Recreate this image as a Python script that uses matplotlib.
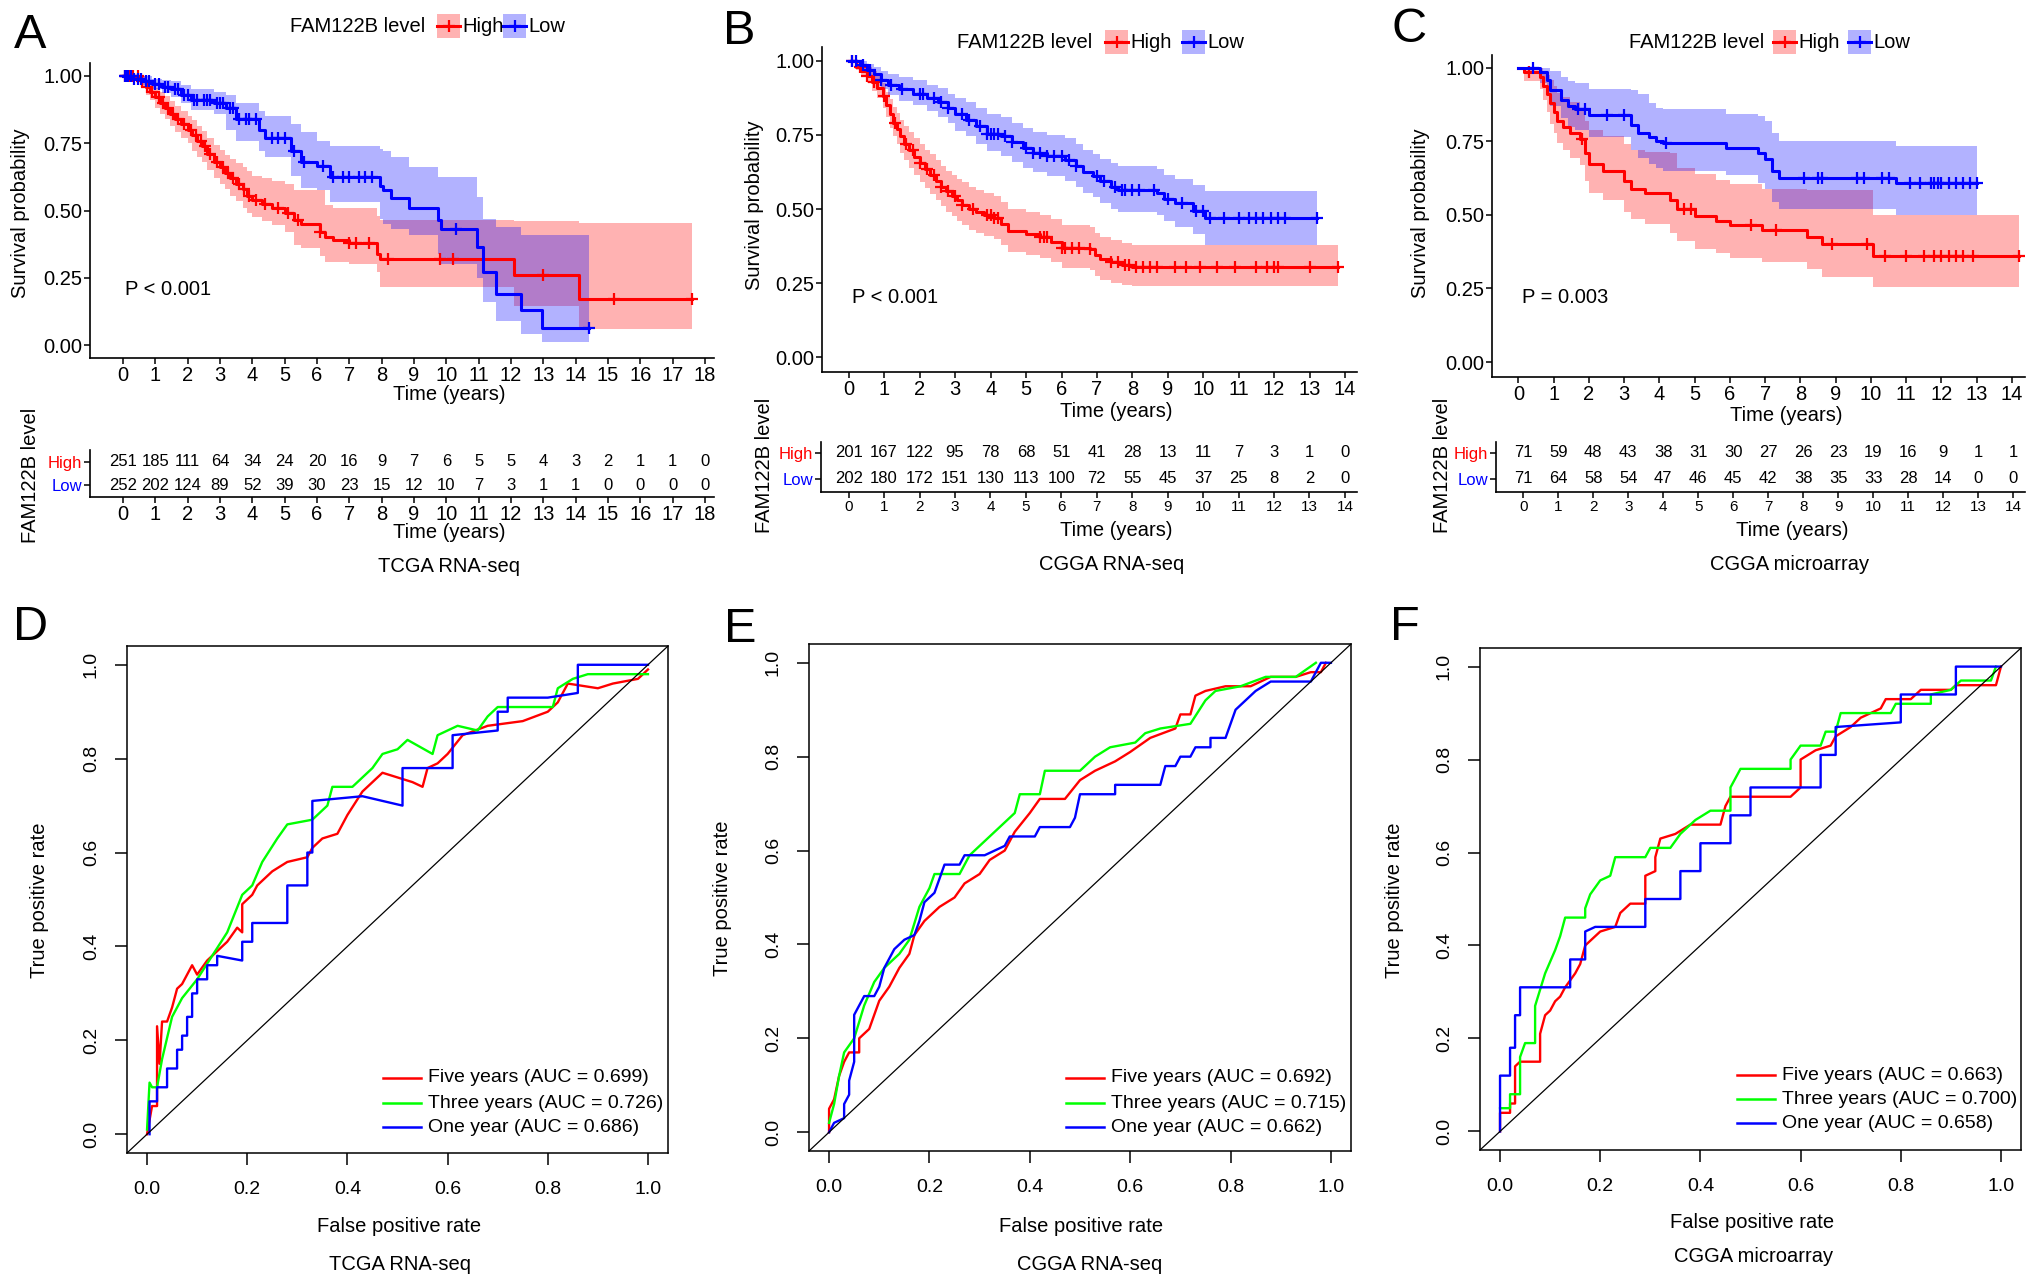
import numpy as np
import matplotlib
matplotlib.use('Agg')
import matplotlib.pyplot as plt
from matplotlib.patches import Rectangle
from matplotlib.lines import Line2D

plt.rcParams['font.family'] = ['Liberation Sans', 'DejaVu Sans']

# ---------------- Kaplan-Meier data ----------------
# Panel A : TCGA RNA-seq
A_high_t = [0, 0.55, 0.7, 0.85, 1.0, 1.15, 1.3, 1.45, 1.6, 1.8, 2.0, 2.15, 2.3, 2.45, 2.6, 2.8, 3.0, 3.15, 3.3, 3.5,
            3.7, 3.85, 4.0, 4.3, 4.6, 5.0, 5.3, 5.5, 6.1, 6.25, 6.5, 7.0, 7.85, 7.95, 12.1, 14.1]
A_high_s = [1.0, 0.98, 0.96, 0.94, 0.92, 0.90, 0.88, 0.86, 0.84, 0.82, 0.80, 0.78, 0.76, 0.74, 0.71, 0.68, 0.66, 0.64,
            0.62, 0.60, 0.58, 0.555, 0.54, 0.525, 0.51, 0.49, 0.465, 0.45, 0.42, 0.40, 0.39, 0.38, 0.34, 0.32, 0.26, 0.17]
A_high_lo = [1.0, 0.96, 0.93, 0.91, 0.88, 0.86, 0.84, 0.815, 0.79, 0.77, 0.75, 0.72, 0.70, 0.68, 0.65, 0.62, 0.60, 0.58,
             0.555, 0.535, 0.51, 0.49, 0.475, 0.46, 0.445, 0.42, 0.37, 0.36, 0.33, 0.31, 0.31, 0.30, 0.27, 0.215, 0.145, 0.06]
A_high_up = [1.0, 1.0, 0.985, 0.97, 0.955, 0.94, 0.925, 0.905, 0.89, 0.87, 0.85, 0.835, 0.815, 0.795, 0.77, 0.745, 0.725,
             0.705, 0.69, 0.675, 0.66, 0.645, 0.63, 0.62, 0.61, 0.60, 0.575, 0.575, 0.575, 0.52, 0.51, 0.51, 0.48, 0.465, 0.46, 0.455]
A_high_end = 17.6
A_high_cens = [0.05, 0.1, 0.2, 0.3, 0.45, 0.6, 0.75, 0.9, 1.1, 1.25, 1.4, 1.55, 1.7, 1.9, 2.1, 2.25, 2.4, 2.55, 2.7, 2.9,
               3.1, 3.25, 3.4, 3.6, 3.75, 3.9, 4.1, 4.4, 4.8, 5.1, 5.4, 6.1, 7.0, 7.2, 7.6, 8.2, 9.8, 10.2, 13.0, 15.2, 17.6]

A_low_t = [0, 0.3, 0.6, 0.9, 1.2, 1.5, 1.8, 2.1, 2.8, 3.2, 3.5, 4.2, 4.4, 5.2, 5.5, 6.0, 6.4, 7.95, 8.05, 8.3, 8.85,
           9.75, 9.85, 10.95, 11.15, 11.55, 12.3, 12.95]
A_low_s = [1.0, 0.99, 0.98, 0.97, 0.96, 0.95, 0.93, 0.91, 0.90, 0.88, 0.84, 0.80, 0.77, 0.72, 0.68, 0.665, 0.625, 0.59,
           0.575, 0.545, 0.51, 0.465, 0.43, 0.365, 0.27, 0.19, 0.13, 0.065]
A_low_lo = [1.0, 0.98, 0.965, 0.95, 0.935, 0.92, 0.90, 0.875, 0.86, 0.80, 0.76, 0.72, 0.70, 0.63, 0.585, 0.575, 0.53,
            0.47, 0.45, 0.43, 0.41, 0.34, 0.30, 0.25, 0.16, 0.09, 0.04, 0.01]
A_low_up = [1.0, 1.0, 1.0, 0.99, 0.985, 0.98, 0.965, 0.95, 0.94, 0.93, 0.90, 0.87, 0.85, 0.82, 0.79, 0.76, 0.74, 0.73,
            0.72, 0.70, 0.66, 0.625, 0.625, 0.55, 0.47, 0.44, 0.41, 0.41]
A_low_end = 14.4
A_low_cens = [0.05, 0.1, 0.15, 0.25, 0.35, 0.45, 0.55, 0.7, 0.8, 1.0, 1.1, 1.3, 1.4, 1.6, 1.7, 1.9, 2.0, 2.2, 2.3, 2.5,
              2.6, 2.7, 2.9, 3.0, 3.1, 3.3, 3.4, 3.6, 3.8, 3.9, 4.1, 4.6, 4.8, 5.0, 5.3, 5.6, 6.2, 6.5, 6.8, 7.0, 7.3,
              7.5, 7.7, 10.3, 14.4]

# Panel B : CGGA RNA-seq
B_high_t = [0, 0.2, 0.35, 0.5, 0.65, 0.8, 0.95, 1.05, 1.15, 1.25, 1.35, 1.45, 1.55, 1.7, 1.85, 2.0, 2.15, 2.3, 2.45,
            2.6, 2.75, 2.9, 3.05, 3.2, 3.4, 3.6, 3.8, 4.1, 4.3, 4.5, 5.0, 5.4, 5.7, 6.0, 6.8, 6.95, 7.1, 7.4, 7.7, 8.0]
B_high_s = [1.0, 0.98, 0.965, 0.95, 0.93, 0.91, 0.88, 0.85, 0.82, 0.79, 0.77, 0.745, 0.72, 0.70, 0.675, 0.655, 0.635,
            0.615, 0.595, 0.575, 0.56, 0.545, 0.53, 0.515, 0.50, 0.49, 0.48, 0.47, 0.45, 0.425, 0.415, 0.405, 0.39,
            0.37, 0.365, 0.345, 0.33, 0.32, 0.31, 0.305]
B_high_lo = [1.0, 0.97, 0.945, 0.925, 0.90, 0.875, 0.84, 0.81, 0.775, 0.745, 0.72, 0.69, 0.665, 0.64, 0.615, 0.59, 0.57,
             0.55, 0.53, 0.51, 0.49, 0.475, 0.46, 0.445, 0.43, 0.42, 0.41, 0.40, 0.38, 0.355, 0.345, 0.335, 0.32, 0.30,
             0.295, 0.275, 0.26, 0.25, 0.245, 0.24]
B_high_up = [1.0, 0.995, 0.99, 0.98, 0.965, 0.95, 0.925, 0.895, 0.87, 0.845, 0.825, 0.80, 0.78, 0.76, 0.74, 0.72, 0.70,
             0.685, 0.665, 0.645, 0.63, 0.615, 0.60, 0.59, 0.575, 0.565, 0.555, 0.545, 0.525, 0.50, 0.49, 0.48, 0.465,
             0.445, 0.44, 0.42, 0.405, 0.395, 0.385, 0.38]
B_high_end = 13.8
B_high_cens = [0.1, 0.3, 0.5, 0.7, 1.0, 1.3, 1.6, 1.8, 2.0, 2.2, 2.4, 2.6, 2.8, 3.0, 3.2, 3.5, 3.9, 4.0, 4.1, 4.2, 5.4,
               5.5, 5.6, 6.0, 6.1, 6.3, 6.5, 6.8, 7.4, 7.6, 7.8, 7.9, 8.1, 8.3, 8.5, 8.7, 9.2, 9.5, 9.9, 10.4, 10.9,
               11.5, 11.8, 12.0, 12.1, 13.0, 13.8]

B_low_t = [0, 0.3, 0.5, 0.7, 0.9, 1.1, 1.4, 1.8, 2.2, 2.5, 2.8, 3.0, 3.3, 3.6, 3.9, 4.3, 4.6, 4.9, 5.2, 5.6, 6.1, 6.4,
           6.6, 6.9, 7.1, 7.4, 7.6, 8.7, 8.9, 9.2, 9.7, 10.05]
B_low_s = [1.0, 0.985, 0.97, 0.955, 0.935, 0.92, 0.905, 0.89, 0.875, 0.86, 0.84, 0.82, 0.80, 0.78, 0.755, 0.745, 0.725,
           0.705, 0.69, 0.68, 0.665, 0.645, 0.625, 0.61, 0.595, 0.575, 0.565, 0.555, 0.535, 0.52, 0.495, 0.47]
B_low_lo = [1.0, 0.97, 0.95, 0.93, 0.905, 0.885, 0.865, 0.85, 0.83, 0.81, 0.79, 0.765, 0.745, 0.72, 0.695, 0.68, 0.66,
            0.64, 0.625, 0.61, 0.595, 0.575, 0.555, 0.54, 0.52, 0.50, 0.49, 0.48, 0.46, 0.44, 0.415, 0.38]
B_low_up = [1.0, 1.0, 0.99, 0.98, 0.965, 0.955, 0.945, 0.935, 0.92, 0.91, 0.89, 0.875, 0.86, 0.84, 0.82, 0.81, 0.79,
            0.775, 0.76, 0.75, 0.74, 0.72, 0.70, 0.685, 0.67, 0.655, 0.645, 0.635, 0.615, 0.60, 0.58, 0.56]
B_low_end = 13.2
B_low_cens = [0.1, 0.2, 0.4, 0.6, 0.9, 1.2, 1.5, 2.0, 2.1, 2.4, 2.6, 2.8, 3.2, 3.4, 3.7, 3.9, 4.0, 4.1, 4.2, 4.4, 4.6,
              5.0, 5.2, 5.4, 5.6, 5.8, 6.0, 6.2, 6.4, 7.0, 7.2, 7.5, 7.7, 7.8, 8.0, 8.2, 8.6, 9.0, 9.4, 9.8, 10.0,
              10.2, 10.6, 11.0, 11.3, 11.5, 11.7, 11.9, 12.1, 12.3, 13.2]

# Panel C : CGGA microarray
C_high_t = [0, 0.15, 0.6, 0.7, 0.8, 0.9, 1.0, 1.1, 1.25, 1.45, 1.75, 1.9, 2.0, 2.4, 3.0, 3.2, 3.6, 4.3, 4.5, 5.0, 5.6,
            6.0, 6.9, 8.2, 8.6, 10.05]
C_high_s = [1.0, 0.985, 0.97, 0.94, 0.91, 0.88, 0.85, 0.82, 0.80, 0.78, 0.76, 0.71, 0.675, 0.65, 0.615, 0.59, 0.575,
            0.55, 0.52, 0.495, 0.48, 0.465, 0.45, 0.425, 0.40, 0.36]
C_high_lo = [1.0, 0.955, 0.93, 0.89, 0.85, 0.81, 0.78, 0.745, 0.72, 0.695, 0.67, 0.615, 0.575, 0.55, 0.51, 0.485, 0.47,
             0.44, 0.41, 0.385, 0.37, 0.355, 0.34, 0.315, 0.29, 0.255]
C_high_up = [1.0, 1.0, 1.0, 0.99, 0.975, 0.96, 0.94, 0.915, 0.90, 0.885, 0.865, 0.82, 0.79, 0.77, 0.74, 0.72, 0.715,
             0.71, 0.66, 0.64, 0.62, 0.605, 0.59, 0.585, 0.585, 0.50]
C_high_end = 14.2
C_high_cens = [0.3, 1.8, 4.7, 4.9, 6.6, 7.3, 8.9, 9.9, 10.4, 11.0, 11.5, 11.8, 12.0, 12.2, 12.4, 12.6, 12.9, 14.2]

C_low_t = [0, 0.6, 0.8, 0.9, 1.2, 1.4, 1.6, 2.0, 3.2, 3.4, 3.7, 3.9, 4.1, 5.9, 6.8, 7.0, 7.2, 7.4, 10.7]
C_low_s = [1.0, 0.985, 0.96, 0.925, 0.89, 0.87, 0.86, 0.84, 0.805, 0.78, 0.765, 0.75, 0.745, 0.727, 0.71, 0.69, 0.65,
           0.625, 0.61]
C_low_lo = [1.0, 0.95, 0.915, 0.87, 0.83, 0.80, 0.79, 0.765, 0.72, 0.695, 0.675, 0.66, 0.65, 0.635, 0.61, 0.59, 0.545,
            0.52, 0.50]
C_low_up = [1.0, 1.0, 1.0, 0.99, 0.97, 0.955, 0.95, 0.93, 0.925, 0.91, 0.88, 0.865, 0.86, 0.845, 0.835, 0.82, 0.78,
            0.75, 0.735]
C_low_end = 13.0
C_low_cens = [0.4, 1.7, 1.9, 2.5, 3.0, 4.2, 8.1, 8.5, 8.6, 9.6, 9.8, 10.3, 10.5, 11.1, 11.4, 11.7, 11.8, 11.9, 12.0,
              12.2, 12.4, 12.6, 12.8, 13.0]

# ---------------- number at risk tables ----------------
A_risk_times = list(range(0, 19))
A_risk_high = [251, 185, 111, 64, 34, 24, 20, 16, 9, 7, 6, 5, 5, 4, 3, 2, 1, 1, 0]
A_risk_low = [252, 202, 124, 89, 52, 39, 30, 23, 15, 12, 10, 7, 3, 1, 1, 0, 0, 0, 0]
B_risk_times = list(range(0, 15))
B_risk_high = [201, 167, 122, 95, 78, 68, 51, 41, 28, 13, 11, 7, 3, 1, 0]
B_risk_low = [202, 180, 172, 151, 130, 113, 100, 72, 55, 45, 37, 25, 8, 2, 0]
C_risk_times = list(range(0, 15))
C_risk_high = [71, 59, 48, 43, 38, 31, 30, 27, 26, 23, 19, 16, 9, 1, 1]
C_risk_low = [71, 64, 58, 54, 47, 46, 45, 42, 38, 35, 33, 28, 14, 0, 0]

pvals = ['P < 0.001', 'P < 0.001', 'P = 0.003']
subtitles = ['TCGA RNA-seq', 'CGGA RNA-seq', 'CGGA microarray']

# ---------------- ROC data (FPR, TPR) ----------------
D_five = [(0.0, 0.0), (0.01, 0.06), (0.02, 0.06), (0.02, 0.23), (0.025, 0.15), (0.03, 0.24), (0.04, 0.24), (0.05, 0.27),
          (0.06, 0.31), (0.07, 0.32), (0.09, 0.36), (0.10, 0.34), (0.12, 0.37), (0.14, 0.39), (0.16, 0.41),
          (0.18, 0.44), (0.19, 0.43), (0.19, 0.49), (0.21, 0.51), (0.22, 0.53), (0.25, 0.56), (0.28, 0.58),
          (0.32, 0.59), (0.33, 0.61), (0.35, 0.63), (0.38, 0.64), (0.40, 0.68), (0.43, 0.73), (0.47, 0.77),
          (0.50, 0.76), (0.53, 0.75), (0.55, 0.74), (0.56, 0.78), (0.58, 0.79), (0.60, 0.81), (0.63, 0.85),
          (0.68, 0.87), (0.75, 0.88), (0.80, 0.90), (0.82, 0.92), (0.84, 0.96), (0.90, 0.95), (0.93, 0.96),
          (0.98, 0.97), (1.0, 0.99)]
D_three = [(0.0, 0.01), (0.005, 0.11), (0.01, 0.10), (0.02, 0.10), (0.03, 0.16), (0.05, 0.25), (0.07, 0.29),
           (0.10, 0.33), (0.13, 0.38), (0.16, 0.43), (0.19, 0.51), (0.21, 0.53), (0.23, 0.58), (0.26, 0.63),
           (0.28, 0.66), (0.33, 0.67), (0.36, 0.70), (0.37, 0.74), (0.41, 0.74), (0.45, 0.78), (0.47, 0.81),
           (0.50, 0.82), (0.52, 0.84), (0.57, 0.81), (0.58, 0.85), (0.62, 0.87), (0.66, 0.86), (0.68, 0.89),
           (0.70, 0.91), (0.81, 0.91), (0.82, 0.95), (0.85, 0.97), (0.88, 0.98), (1.0, 0.98)]
D_one = [(0.005, 0.0), (0.005, 0.07), (0.02, 0.07), (0.02, 0.10), (0.04, 0.10), (0.04, 0.14), (0.06, 0.14),
         (0.06, 0.18), (0.07, 0.18), (0.07, 0.21), (0.08, 0.21), (0.08, 0.25), (0.09, 0.25), (0.09, 0.30),
         (0.10, 0.30), (0.10, 0.33), (0.12, 0.33), (0.12, 0.36), (0.14, 0.36), (0.14, 0.38), (0.19, 0.37),
         (0.19, 0.41), (0.21, 0.41), (0.21, 0.45), (0.28, 0.45), (0.28, 0.53), (0.32, 0.53), (0.32, 0.60),
         (0.33, 0.60), (0.33, 0.71), (0.43, 0.72), (0.51, 0.70), (0.51, 0.78), (0.61, 0.78), (0.61, 0.85),
         (0.70, 0.86), (0.70, 0.90), (0.72, 0.90), (0.72, 0.93), (0.80, 0.93), (0.86, 0.94), (0.86, 1.0), (1.0, 1.0)]

E_five = [(0.0, 0.0), (0.0, 0.05), (0.01, 0.07), (0.02, 0.12), (0.03, 0.15), (0.04, 0.17), (0.06, 0.17), (0.06, 0.20),
          (0.08, 0.22), (0.10, 0.28), (0.12, 0.31), (0.14, 0.35), (0.16, 0.38), (0.17, 0.42), (0.19, 0.45),
          (0.22, 0.48), (0.25, 0.50), (0.27, 0.53), (0.30, 0.55), (0.32, 0.58), (0.35, 0.60), (0.37, 0.64),
          (0.40, 0.68), (0.42, 0.71), (0.47, 0.71), (0.50, 0.75), (0.53, 0.77), (0.57, 0.79), (0.60, 0.81),
          (0.64, 0.84), (0.69, 0.86), (0.70, 0.89), (0.72, 0.89), (0.73, 0.93), (0.75, 0.94), (0.79, 0.95),
          (0.84, 0.95), (0.88, 0.97), (0.93, 0.97), (0.96, 0.98), (0.98, 0.98), (0.99, 1.0)]
E_three = [(0.0, 0.02), (0.01, 0.06), (0.02, 0.12), (0.03, 0.17), (0.05, 0.20), (0.07, 0.27), (0.09, 0.32),
           (0.11, 0.35), (0.14, 0.38), (0.16, 0.41), (0.18, 0.48), (0.20, 0.52), (0.21, 0.55), (0.26, 0.55),
           (0.28, 0.59), (0.32, 0.63), (0.34, 0.65), (0.37, 0.68), (0.38, 0.72), (0.42, 0.72), (0.43, 0.77),
           (0.50, 0.77), (0.53, 0.80), (0.56, 0.82), (0.61, 0.83), (0.63, 0.85), (0.66, 0.86), (0.72, 0.87),
           (0.75, 0.92), (0.77, 0.94), (0.82, 0.95), (0.87, 0.97), (0.93, 0.97), (0.97, 1.0)]
E_one = [(0.0, 0.0), (0.01, 0.02), (0.03, 0.03), (0.03, 0.06), (0.04, 0.08), (0.04, 0.11), (0.05, 0.15),
         (0.05, 0.25), (0.06, 0.27), (0.07, 0.29), (0.09, 0.29), (0.10, 0.31), (0.11, 0.35), (0.12, 0.37),
         (0.13, 0.39), (0.15, 0.41), (0.17, 0.42), (0.18, 0.45), (0.19, 0.49), (0.21, 0.51), (0.23, 0.57),
         (0.26, 0.57), (0.27, 0.59), (0.31, 0.59), (0.35, 0.61), (0.36, 0.63), (0.41, 0.63), (0.42, 0.65),
         (0.48, 0.65), (0.49, 0.67), (0.50, 0.72), (0.57, 0.72), (0.57, 0.74), (0.66, 0.74), (0.67, 0.78),
         (0.69, 0.78), (0.70, 0.80), (0.72, 0.80), (0.73, 0.82), (0.76, 0.82), (0.76, 0.84), (0.79, 0.84),
         (0.80, 0.87), (0.81, 0.90), (0.83, 0.92), (0.85, 0.94), (0.88, 0.96), (0.96, 0.96), (0.98, 1.0), (1.0, 1.0)]

F_five = [(0.0, 0.0), (0.0, 0.04), (0.02, 0.04), (0.02, 0.06), (0.03, 0.06), (0.03, 0.14), (0.04, 0.15), (0.08, 0.15),
          (0.08, 0.21), (0.09, 0.25), (0.10, 0.26), (0.11, 0.28), (0.12, 0.29), (0.13, 0.31), (0.15, 0.34),
          (0.16, 0.36), (0.17, 0.40), (0.19, 0.42), (0.20, 0.43), (0.23, 0.44), (0.24, 0.47), (0.26, 0.49),
          (0.29, 0.49), (0.29, 0.55), (0.31, 0.56), (0.31, 0.59), (0.32, 0.63), (0.35, 0.64), (0.38, 0.66),
          (0.44, 0.66), (0.45, 0.70), (0.46, 0.72), (0.58, 0.72), (0.60, 0.74), (0.60, 0.80), (0.63, 0.82),
          (0.66, 0.83), (0.67, 0.85), (0.70, 0.87), (0.72, 0.89), (0.76, 0.91), (0.77, 0.93), (0.82, 0.93),
          (0.84, 0.95), (0.90, 0.95), (0.91, 0.96), (0.99, 0.96), (1.0, 1.0)]
F_three = [(0.0, 0.05), (0.02, 0.05), (0.02, 0.08), (0.04, 0.08), (0.04, 0.16), (0.05, 0.19), (0.07, 0.19),
           (0.07, 0.27), (0.09, 0.34), (0.11, 0.39), (0.12, 0.42), (0.13, 0.46), (0.17, 0.46), (0.17, 0.48),
           (0.18, 0.51), (0.20, 0.54), (0.22, 0.55), (0.23, 0.59), (0.29, 0.59), (0.30, 0.61), (0.34, 0.61),
           (0.36, 0.64), (0.39, 0.67), (0.42, 0.69), (0.46, 0.69), (0.46, 0.74), (0.48, 0.78), (0.58, 0.78),
           (0.58, 0.80), (0.60, 0.83), (0.64, 0.83), (0.65, 0.86), (0.67, 0.86), (0.68, 0.90), (0.78, 0.90),
           (0.79, 0.92), (0.86, 0.92), (0.86, 0.94), (0.90, 0.95), (0.92, 0.97), (0.98, 0.97), (0.99, 1.0)]
F_one = [(0.0, 0.0), (0.0, 0.12), (0.02, 0.12), (0.02, 0.18), (0.03, 0.18), (0.03, 0.25), (0.04, 0.25),
         (0.04, 0.31), (0.14, 0.31), (0.14, 0.37), (0.17, 0.37), (0.17, 0.43), (0.19, 0.44), (0.29, 0.44),
         (0.29, 0.50), (0.36, 0.50), (0.36, 0.56), (0.40, 0.56), (0.40, 0.62), (0.46, 0.62), (0.46, 0.68),
         (0.50, 0.68), (0.50, 0.74), (0.64, 0.74), (0.64, 0.81), (0.67, 0.81), (0.67, 0.87), (0.80, 0.88),
         (0.80, 0.94), (0.91, 0.94), (0.91, 1.0), (1.0, 1.0)]

roc_names = ['Five years', 'Three years', 'One year']
D_auc = [0.699, 0.726, 0.686]
E_auc = [0.692, 0.715, 0.662]
F_auc = [0.663, 0.700, 0.658]

# ---------------- figure helpers ----------------
W, H = 2032, 1277
fig = plt.figure(figsize=(W / 100, H / 100), dpi=100)
FS = 14.5


def px_axes(l, t, r, b):
    return fig.add_axes([l / W, 1 - b / H, (r - l) / W, (b - t) / H])


def ftext(x, y, s, **kw):
    kw.setdefault('ha', 'center')
    kw.setdefault('va', 'center')
    fig.text(x / W, 1 - y / H, s, **kw)


RED, BLUE = '#FF0000', '#0000FF'


def km_axes(box, xlim, ylim, tmax, high, low, pval, ppos, ticksize):
    ax = px_axes(*box)
    for (t, s, lo, up, tend, cens), col in ((high, RED), (low, BLUE)):
        t = np.asarray(t, float)
        te = np.append(t, tend)
        ax.fill_between(te, np.append(lo, lo[-1]), np.append(up, up[-1]), step='post',
                        color=col, alpha=0.3, lw=0)
    for (t, s, lo, up, tend, cens), col in ((high, RED), (low, BLUE)):
        t = np.asarray(t, float)
        s = np.asarray(s, float)
        te = np.append(t, tend)
        ax.step(te, np.append(s, s[-1]), where='post', color=col, lw=2.2)
        idx = np.searchsorted(t, cens, side='right') - 1
        ax.plot(cens, s[idx], ls='none', marker='+', color=col, ms=9, mew=1.6)
    ax.set_xlim(*xlim)
    ax.set_ylim(*ylim)
    ax.set_xticks(range(0, tmax + 1))
    ax.set_xticklabels([str(i) for i in range(0, tmax + 1)])
    ax.set_yticks([0, 0.25, 0.5, 0.75, 1.0])
    ax.set_yticklabels(['0.00', '0.25', '0.50', '0.75', '1.00'])
    for sp in ('top', 'right'):
        ax.spines[sp].set_visible(False)
    for sp in ('left', 'bottom'):
        ax.spines[sp].set_linewidth(1.2)
    ax.tick_params(direction='out', length=4, width=1.1, labelsize=ticksize, pad=1.5, colors='black')
    ax.text(ppos[0], ppos[1], pval, fontsize=FS, ha='left', va='center')
    return ax


def risk_axes(box, xlim, ylim, tmax, times, hi, lo, ticksize, numsize):
    ax = px_axes(*box)
    ax.set_xlim(*xlim)
    ax.set_ylim(*ylim)
    for tt, v in zip(times, hi):
        ax.text(tt, 2, str(v), ha='center', va='center', fontsize=numsize)
    for tt, v in zip(times, lo):
        ax.text(tt, 1, str(v), ha='center', va='center', fontsize=numsize)
    ax.set_xticks(range(0, tmax + 1))
    ax.set_xticklabels([str(i) for i in range(0, tmax + 1)])
    ax.set_yticks([1, 2])
    ax.set_yticklabels(['Low', 'High'])
    for lab, col in zip(ax.get_yticklabels(), (BLUE, RED)):
        lab.set_color(col)
    for sp in ('top', 'right'):
        ax.spines[sp].set_visible(False)
    for sp in ('left', 'bottom'):
        ax.spines[sp].set_linewidth(1.2)
    ax.tick_params(axis='x', direction='out', length=4, width=1.1, labelsize=ticksize, pad=1.5)
    ax.tick_params(axis='y', direction='out', length=4, width=1.1, labelsize=12, pad=1.5)
    return ax


def km_legend(title_x, y, box_hi, box_lo):
    ftext(title_x, y, 'FAM122B level', fontsize=FS, ha='left')
    for bx, lab, col in ((box_hi, 'High', RED), (box_lo, 'Low', BLUE)):
        fig.add_artist(Rectangle((bx / W, 1 - (y + 12) / H), 23 / W, 24 / H, facecolor=col, alpha=0.3,
                                 lw=0, transform=fig.transFigure))
        fig.add_artist(Line2D([bx / W, (bx + 23) / W], [1 - y / H, 1 - y / H], color=col, lw=2.2,
                              transform=fig.transFigure))
        fig.add_artist(Line2D([(bx + 11.5) / W], [1 - y / H], color=col, marker='+', ms=9, mew=1.6,
                              transform=fig.transFigure))
        ftext(bx + 25, y, lab, fontsize=FS, ha='left')


def roc_axes(box, series, aucs, leg_x0, leg_rows):
    ax = px_axes(*box)
    cols = [RED, '#00FF00', BLUE]
    for pairs, col in zip(series, cols):
        arr = np.array(pairs)
        ax.plot(arr[:, 0], arr[:, 1], color=col, lw=1.7)
    ax.axline((0, 0), (1, 1), color='black', lw=0.9)
    ax.set_xlim(-0.04, 1.04)
    ax.set_ylim(-0.04, 1.04)
    ticks = [0, 0.2, 0.4, 0.6, 0.8, 1.0]
    labs = ['0.0', '0.2', '0.4', '0.6', '0.8', '1.0']
    ax.set_xticks(ticks)
    ax.set_xticklabels(labs)
    ax.set_yticks(ticks)
    ax.set_yticklabels(labs, rotation=90, va='center')
    for sp in ax.spines.values():
        sp.set_linewidth(1.1)
    ax.tick_params(axis='x', direction='out', length=8.5, width=1.1, labelsize=14, pad=12)
    ax.tick_params(axis='y', direction='out', length=8.5, width=1.1, labelsize=14, pad=11)
    for name, auc, col, yy in zip(roc_names, aucs, cols, leg_rows):
        fig.add_artist(Line2D([leg_x0 / W, (leg_x0 + 38) / W], [1 - yy / H, 1 - yy / H], color=col, lw=1.8,
                              transform=fig.transFigure))
        ftext(leg_x0 + 45, yy, f'{name} (AUC = {auc:.3f})', fontsize=14, ha='left')
    return ax


# ---------------- KM panels ----------------
A_high = (A_high_t, A_high_s, A_high_lo, A_high_up, A_high_end, A_high_cens)
A_low = (A_low_t, A_low_s, A_low_lo, A_low_up, A_low_end, A_low_cens)
B_high = (B_high_t, B_high_s, B_high_lo, B_high_up, B_high_end, B_high_cens)
B_low = (B_low_t, B_low_s, B_low_lo, B_low_up, B_low_end, B_low_cens)
C_high = (C_high_t, C_high_s, C_high_lo, C_high_up, C_high_end, C_high_cens)
C_low = (C_low_t, C_low_s, C_low_lo, C_low_up, C_low_end, C_low_cens)

km_axes((90, 63, 714, 358), (-1.02, 18.28), (-0.048, 1.048), 18, A_high, A_low, pvals[0], (0.05, 0.205), FS)
km_axes((822, 47, 1357, 372), (-0.76, 14.34), (-0.05, 1.047), 14, B_high, B_low, pvals[1], (0.1, 0.20), FS)
km_axes((1492, 55, 2025, 377), (-0.75, 14.37), (-0.051, 1.044), 14, C_high, C_low, pvals[2], (0.1, 0.22), FS)

risk_axes((90, 450, 714, 497), (-1.02, 18.28), (0.48, 2.52), 18, A_risk_times, A_risk_high, A_risk_low, FS, 12)
risk_axes((821, 442, 1357, 492), (-0.78, 14.34), (0.5, 2.42), 14, B_risk_times, B_risk_high, B_risk_low, 11, 12)
risk_axes((1496, 442, 2025, 492), (-0.78, 14.34), (0.5, 2.42), 14, C_risk_times, C_risk_high, C_risk_low, 11, 12)

# KM axis titles
ftext(449, 395, 'Time (years)', fontsize=FS)
ftext(1116, 412, 'Time (years)', fontsize=FS)
ftext(1786, 416, 'Time (years)', fontsize=FS)
ftext(449, 532, 'Time (years)', fontsize=FS)
ftext(1116, 530, 'Time (years)', fontsize=FS)
ftext(1792, 530, 'Time (years)', fontsize=FS)
ftext(449, 567, subtitles[0], fontsize=FS)
ftext(1112, 565, subtitles[1], fontsize=FS)
ftext(1790, 565, subtitles[2], fontsize=FS)
ftext(21, 213, 'Survival probability', fontsize=FS, rotation=90)
ftext(755, 205, 'Survival probability', fontsize=FS, rotation=90)
ftext(1420, 213, 'Survival probability', fontsize=FS, rotation=90)
ftext(30, 475, 'FAM122B level', fontsize=FS, rotation=90)
ftext(764, 465, 'FAM122B level', fontsize=FS, rotation=90)
ftext(1442, 465, 'FAM122B level', fontsize=FS, rotation=90)

km_legend(290, 26, 437, 503)
km_legend(957, 42, 1105, 1182)
km_legend(1629, 42, 1773, 1848)

# ---------------- ROC panels ----------------
roc_axes((127, 646, 668, 1153), [D_five, D_three, D_one], D_auc, 383, [1078, 1103, 1127])
roc_axes((809, 644, 1351, 1151), [E_five, E_three, E_one], E_auc, 1066, [1078, 1103, 1127])
roc_axes((1480, 648, 2021, 1150), [F_five, F_three, F_one], F_auc, 1737, [1075, 1099, 1123])

ftext(399, 1227, 'False positive rate', fontsize=FS)
ftext(1081, 1227, 'False positive rate', fontsize=FS)
ftext(1752, 1223, 'False positive rate', fontsize=FS)
ftext(400, 1264, subtitles[0], fontsize=FS)
ftext(1090, 1264, subtitles[1], fontsize=FS)
ftext(1754, 1256, subtitles[2], fontsize=FS)
ftext(40, 900, 'True positive rate', fontsize=FS, rotation=90)
ftext(722, 898, 'True positive rate', fontsize=FS, rotation=90)
ftext(1395, 900, 'True positive rate', fontsize=FS, rotation=90)

# panel letters
for lx, ly, L in ((14, 36, 'A'), (723, 32, 'B'), (1391, 30, 'C'), (13, 628, 'D'), (724, 630, 'E'), (1390, 628, 'F')):
    ftext(lx, ly, L, fontsize=35, ha='left')

fig.savefig('out.png', dpi=100)
